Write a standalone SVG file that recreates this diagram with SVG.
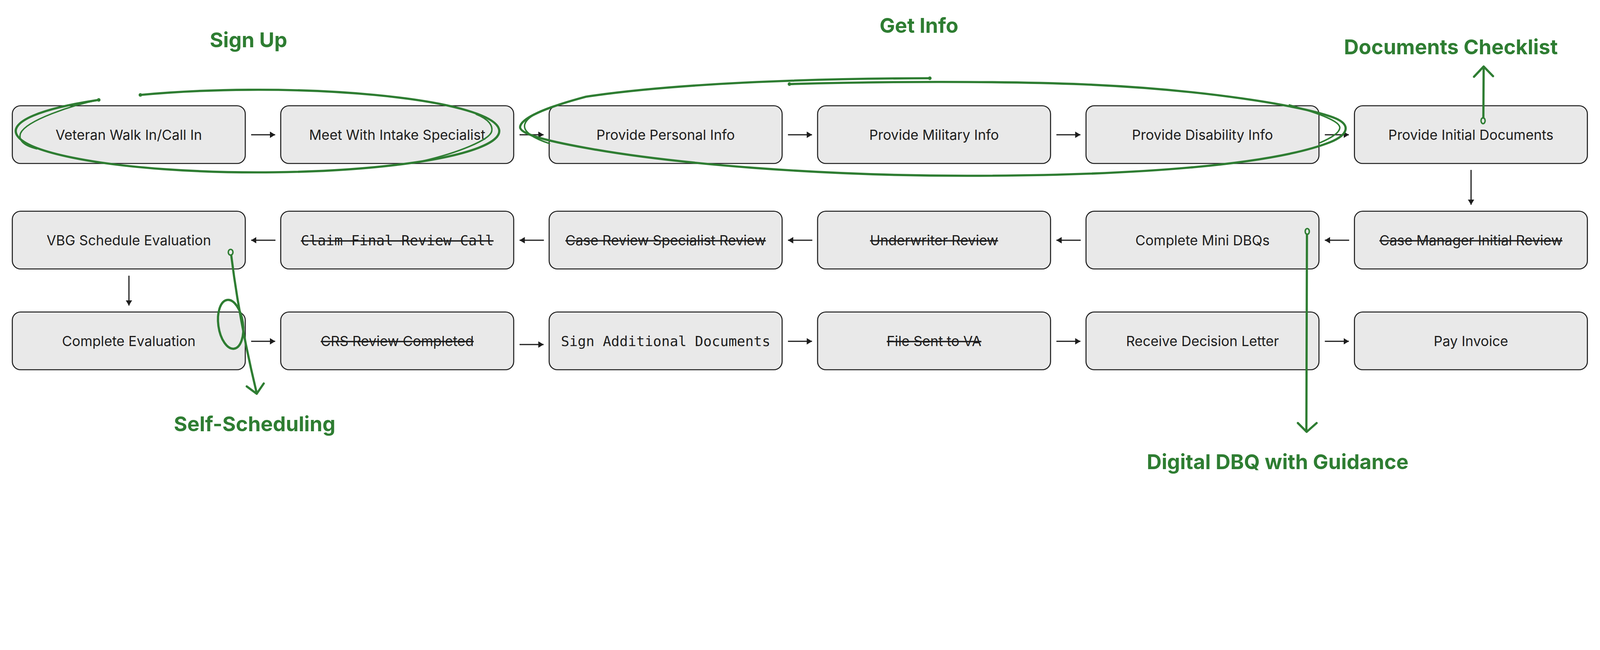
<svg xmlns="http://www.w3.org/2000/svg" width="5460" height="1664" viewBox="0 0 5460 1664" style="display:block;width:100vw;height:30.4762vw">
<style>
.box{fill:#e9e9e9;stroke:#1d1d1d;stroke-width:3.5}
.lbl{font-family:Inter,"Liberation Sans",sans-serif;font-size:47px;fill:#1d1d1d;text-anchor:middle}
.mono{font-family:"DejaVu Sans Mono","Liberation Mono",monospace;font-size:47.5px;fill:#1d1d1d;text-anchor:middle}
.strike{text-decoration:line-through}
.edge{stroke:#1d1d1d;stroke-width:4;fill:none}
.hand{stroke:#2e7d32;stroke-width:7.5;fill:none;stroke-linecap:round;stroke-linejoin:round}
.thin{stroke:#2e7d32;stroke-width:5;fill:none;stroke-linecap:round;stroke-linejoin:round}
.gtxt{font-family:Inter,"Liberation Sans",sans-serif;font-size:70px;font-weight:700;fill:#2e7d32;text-anchor:middle}
.dot{fill:#2e7d32}
</style>
<defs>
<marker id="ah" viewBox="0 0 18 22" refX="18" refY="11" markerWidth="18" markerHeight="22" markerUnits="userSpaceOnUse" orient="auto">
<path d="M0,0 L18,11 L0,22 Z" fill="#1d1d1d"/>
</marker>
</defs>
<rect width="5460" height="1664" fill="#ffffff"/>

<g id="connectors">
<line class="edge" x1="857" y1="460" x2="939" y2="460" marker-end="url(#ah)"/>
<line class="edge" x1="1773" y1="460" x2="1855" y2="460" marker-end="url(#ah)"/>
<line class="edge" x1="2689" y1="460" x2="2771" y2="460" marker-end="url(#ah)"/>
<line class="edge" x1="3605" y1="460" x2="3687" y2="460" marker-end="url(#ah)"/>
<line class="edge" x1="4521" y1="460" x2="4603" y2="460" marker-end="url(#ah)"/>
<line class="edge" x1="5020" y1="580" x2="5020" y2="699" marker-end="url(#ah)"/>
<line class="edge" x1="4604" y1="820" x2="4521" y2="820" marker-end="url(#ah)"/>
<line class="edge" x1="3688" y1="820" x2="3605" y2="820" marker-end="url(#ah)"/>
<line class="edge" x1="2772" y1="820" x2="2689" y2="820" marker-end="url(#ah)"/>
<line class="edge" x1="1856" y1="820" x2="1773" y2="820" marker-end="url(#ah)"/>
<line class="edge" x1="940" y1="820" x2="857" y2="820" marker-end="url(#ah)"/>
<line class="edge" x1="440" y1="941" x2="440" y2="1043" marker-end="url(#ah)"/>
<line class="edge" x1="857" y1="1165" x2="939" y2="1165" marker-end="url(#ah)"/>
<line class="edge" x1="1773" y1="1176" x2="1855" y2="1176" marker-end="url(#ah)"/>
<line class="edge" x1="2689" y1="1165" x2="2771" y2="1165" marker-end="url(#ah)"/>
<line class="edge" x1="3605" y1="1165" x2="3687" y2="1165" marker-end="url(#ah)"/>
<line class="edge" x1="4521" y1="1165" x2="4603" y2="1165" marker-end="url(#ah)"/>
</g>

<g id="n-veteran"><rect class="box" x="42" y="361" width="795" height="197" rx="28"/><text class="lbl" x="439.5" y="477">Veteran Walk In/Call In</text></g>
<g id="n-intake"><rect class="box" x="958" y="361" width="795" height="197" rx="28"/><text class="lbl" x="1355.5" y="477">Meet With Intake Specialist</text></g>
<g id="n-personal"><rect class="box" x="1874" y="361" width="795" height="197" rx="28"/><text class="lbl" x="2271.5" y="477">Provide Personal Info</text></g>
<g id="n-military"><rect class="box" x="2790" y="361" width="795" height="197" rx="28"/><text class="lbl" x="3187.5" y="477">Provide Military Info</text></g>
<g id="n-disability"><rect class="box" x="3706" y="361" width="795" height="197" rx="28"/><text class="lbl" x="4103.5" y="477">Provide Disability Info</text></g>
<g id="n-initialdocs"><rect class="box" x="4622" y="361" width="795" height="197" rx="28"/><text class="lbl" x="5019.5" y="477">Provide Initial Documents</text></g>

<g id="n-vbg"><rect class="box" x="42" y="721" width="795" height="197" rx="28"/><text class="lbl" x="439.5" y="837">VBG Schedule Evaluation</text></g>
<g id="n-claimfinal"><rect class="box" x="958" y="721" width="795" height="197" rx="28"/><text class="mono strike" x="1355.5" y="837">Claim Final Review Call</text></g>
<g id="n-casereview"><rect class="box" x="1874" y="721" width="795" height="197" rx="28"/><text class="lbl strike" x="2271.5" y="837">Case Review Specialist Review</text></g>
<g id="n-underwriter"><rect class="box" x="2790" y="721" width="795" height="197" rx="28"/><text class="lbl strike" x="3187.5" y="837">Underwriter Review</text></g>
<g id="n-minidbq"><rect class="box" x="3706" y="721" width="795" height="197" rx="28"/><text class="lbl" x="4103.5" y="837">Complete Mini DBQs</text></g>
<g id="n-casemanager"><rect class="box" x="4622" y="721" width="795" height="197" rx="28"/><text class="lbl strike" x="5019.5" y="837">Case Manager Initial Review</text></g>

<g id="n-completeeval"><rect class="box" x="42" y="1065" width="795" height="197" rx="28"/><text class="lbl" x="439.5" y="1181">Complete Evaluation</text></g>
<g id="n-crs"><rect class="box" x="958" y="1065" width="795" height="197" rx="28"/><text class="lbl strike" x="1355.5" y="1181">CRS Review Completed</text></g>
<g id="n-signdocs"><rect class="box" x="1874" y="1065" width="795" height="197" rx="28"/><text class="mono" x="2271.5" y="1181">Sign Additional Documents</text></g>
<g id="n-filesent"><rect class="box" x="2790" y="1065" width="795" height="197" rx="28"/><text class="lbl strike" x="3187.5" y="1181">File Sent to VA</text></g>
<g id="n-decision"><rect class="box" x="3706" y="1065" width="795" height="197" rx="28"/><text class="lbl" x="4103.5" y="1181">Receive Decision Letter</text></g>
<g id="n-invoice"><rect class="box" x="4622" y="1065" width="795" height="197" rx="28"/><text class="lbl" x="5019.5" y="1181">Pay Invoice</text></g>

<g id="annot-signup">
<path class="hand" d="M479,324 A825 141 0 1 1 337,341"/>
<path class="thin" d="M337,341 C250,358 90,410 70,455 C62,478 80,497 125,508"/>
<path class="thin" d="M1625,390 C1670,408 1682,430 1678,448 C1672,478 1560,522 1445,549"/>
<circle class="dot" cx="479" cy="324" r="6"/>
<circle class="dot" cx="337" cy="341" r="6"/>
<text class="gtxt" x="848" y="161">Sign Up</text>
</g>

<g id="annot-getinfo">
<path class="hand" d="M2694,287 C3000,278 3400,276 3700,288 C4100,305 4450,360 4560,405 C4610,428 4600,460 4540,485 C4350,560 3900,600 3300,600 C2800,600 2300,560 2000,505 C1850,478 1770,455 1775,432 C1780,405 1850,370 2000,330 C2300,285 2750,268 3173,267"/>
<path class="thin" d="M1890,362 C1820,385 1788,410 1790,433 C1792,455 1830,475 1875,490"/>
<path class="thin" d="M4400,358 C4510,390 4575,415 4572,437 C4570,455 4540,472 4505,487"/>
<circle class="dot" cx="2694" cy="287" r="6"/>
<circle class="dot" cx="3173" cy="267" r="6"/>
<text class="gtxt" x="3136" y="112">Get Info</text>
</g>

<g id="annot-docs">
<ellipse class="thin" cx="5061" cy="412" rx="7" ry="10"/>
<path class="hand" d="M5062,402 L5063,228"/>
<path class="hand" d="M5030,262 L5063,227 L5095,260"/>
<text class="gtxt" x="4951" y="185">Documents Checklist</text>
</g>

<g id="annot-selfsched">
<ellipse class="thin" cx="787" cy="861" rx="8" ry="10"/>
<path class="hand" d="M789,871 C800,960 825,1130 876,1342"/>
<ellipse class="hand" cx="787" cy="1107" rx="42" ry="84" transform="rotate(-8 787 1107)"/>
<path class="hand" d="M842,1319 L876,1344 L900,1309"/>
<text class="gtxt" x="869" y="1472">Self-Scheduling</text>
</g>

<g id="annot-dbq">
<ellipse class="thin" cx="4461" cy="790" rx="7" ry="10"/>
<path class="hand" d="M4460,800 L4458,1472"/>
<path class="hand" d="M4429,1444 L4459,1474 L4493,1444"/>
<text class="gtxt" x="4360" y="1602">Digital DBQ with Guidance</text>
</g>
</svg>
